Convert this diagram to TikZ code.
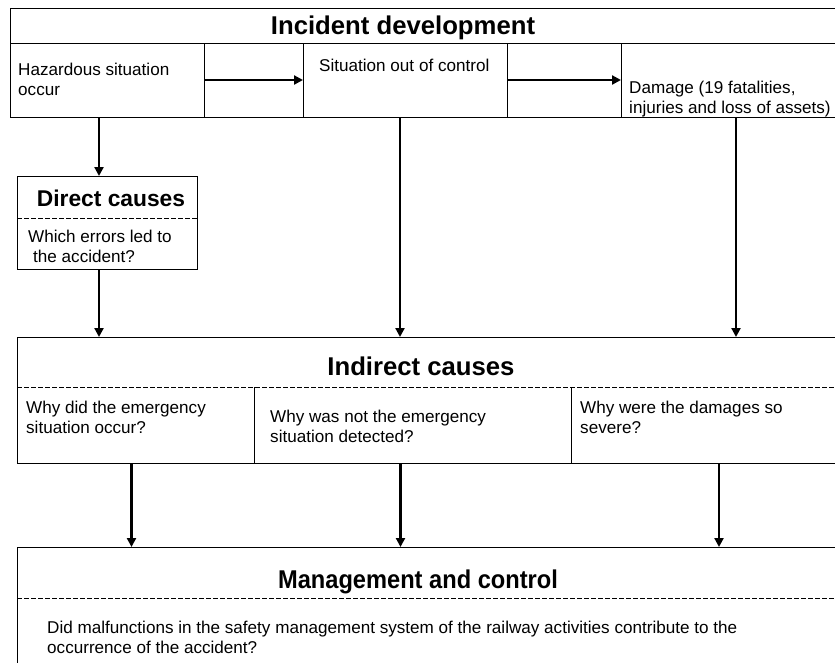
\documentclass[tikz,border=0pt]{standalone}
\usepackage{fontspec}
\setmainfont{Liberation Sans}
\usetikzlibrary{arrows.meta, positioning}

\begin{document}
\begin{tikzpicture}[x=1pt, y=-1pt,
					cell/.style={rectangle, draw, line width=1pt, anchor=north west, inner sep=0pt, outer sep=0pt},
					area/.style={rectangle, anchor=north west, inner sep=0pt, outer sep=0pt},
					head/.style={anchor=base, inner sep=0pt, font=\bfseries\fontsize{25.7}{30}\selectfont},
					txt/.style={anchor=north west, align=left, inner sep=0pt, font=\fontsize{17.1}{19.5}\selectfont},
					flow/.style={-{Triangle[length=9pt, width=9pt]}, line width=2.2pt},
					sep/.style={line width=1pt, dash pattern=on 4.5pt off 2.5pt}]

	\useasboundingbox (0,0) rectangle (835,662);
	\clip (0,0) rectangle (835,662);

	% incident development
	\node[cell, minimum width=840pt, minimum height=35pt] (incident) at (10,8) {};
	\node[head] (incidenttitle) at (403,34) {Incident development};
	\node[cell, minimum width=194pt, minimum height=74pt] (hazard) at (10,43) {};
	\node[cell, minimum width=99pt, minimum height=74pt] (step1) at (204,43) {};
	\node[cell, minimum width=204pt, minimum height=74pt] (outctrl) at (303,43) {};
	\node[cell, minimum width=114pt, minimum height=74pt] (step2) at (507,43) {};
	\node[cell, minimum width=230pt, minimum height=74pt] (damage) at (621,43) {};
	\node[txt] (hazardtext) at (18,63) {Hazardous situation\\occur};
	\node[txt] (outctrltext) at (319,59) {Situation out of control};
	\node[txt] (damagetext) at (629,81) {Damage (19 fatalities,\\injuries and loss of assets)};

	% direct causes
	\node[cell, minimum width=180pt, minimum height=93pt] (direct) at (17,176) {};
	\node[head, font=\bfseries\fontsize{22.8}{27}\selectfont] (directtitle) at (111,206) {Direct causes};
	\draw[sep] ([yshift=-42pt]direct.north west) -- ([yshift=-42pt]direct.north east);
	\node[txt] (directtext) at (28,230) {Which errors led to\\\hspace*{5pt}the accident?};

	% indirect causes
	\node[cell, minimum width=840pt, minimum height=126pt] (indirect) at (17,337) {};
	\node[head] (indirecttitle) at (421,375) {Indirect causes};
	\draw[sep] ([yshift=-50pt]indirect.north west) -- ([yshift=-50pt]indirect.north east);
	\node[area, minimum width=237pt, minimum height=76pt] (why1) at (17,387) {};
	\node[area, minimum width=317pt, minimum height=76pt] (why2) at (254,387) {};
	\node[area, minimum width=280pt, minimum height=76pt] (why3) at (571,387) {};
	\draw[line width=1pt] (why1.north east) -- (why1.south east)
			(why2.north east) -- (why2.south east);
	\node[txt] (why1text) at (26,401) {Why did the emergency\\situation occur?};
	\node[txt] (why2text) at (270,410) {Why was not the emergency\\situation detected?};
	\node[txt] (why3text) at (580,401) {Why were the damages so\\severe?};

	% management and control
	\node[cell, minimum width=840pt, minimum height=200pt] (mgmt) at (17,547) {};
	\node[head, xscale=0.92] (mgmttitle) at (418,588) {Management and control};
	\draw[sep] ([yshift=-51pt]mgmt.north west) -- ([yshift=-51pt]mgmt.north east);
	\node[txt] (mgmttext) at (47,621) {Did malfunctions in the safety management system of the railway activities contribute to the\\occurrence of the accident?};

	% arrows
	\draw[flow] (step1.west) -- (step1.east);
	\draw[flow] (step2.west) -- (step2.east);
	\draw[flow] ([xshift=-8pt]hazard.south) -- ([xshift=-8pt]direct.north);
	\draw[flow] ([xshift=-8pt]direct.south) -- ([xshift=-8pt]direct.south |- indirect.north);
	\draw[flow] ([xshift=-5pt]outctrl.south) -- ([xshift=-5pt]outctrl.south |- indirect.north);
	\draw[flow] (damage.south) -- (damage.south |- indirect.north);
	\draw[flow] ([xshift=-4pt]why1.south) -- ([xshift=-4pt]why1.south |- mgmt.north);
	\draw[flow] ([xshift=-12pt]why2.south) -- ([xshift=-12pt]why2.south |- mgmt.north);
	\draw[flow] ([xshift=8pt]why3.south) -- ([xshift=8pt]why3.south |- mgmt.north);
\end{tikzpicture}
\end{document}
